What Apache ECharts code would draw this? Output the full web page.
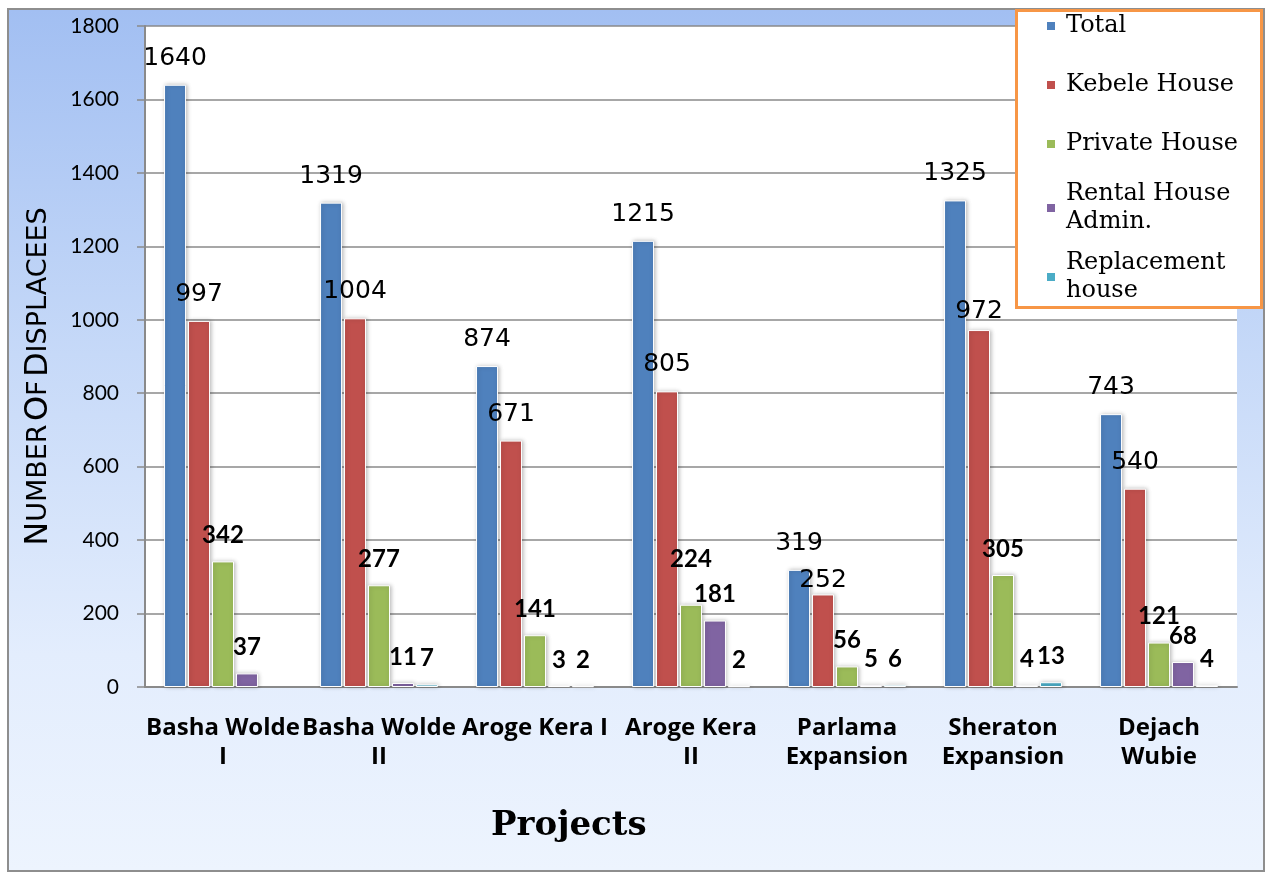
<!DOCTYPE html>
<html>
<head>
<meta charset="utf-8">
<script src="https://cdn.jsdelivr.net/npm/echarts@6/dist/echarts.min.js"></script>
<style>
  html, body { margin: 0; padding: 0; background: #ffffff; }
  #frame {
    position: absolute; left: 7px; top: 8px; width: 1254px; height: 860px;
    border: 2px solid #8e8e8e;
    background: linear-gradient(to bottom, #a2bff2 0%, #c6d9f8 40%, #e3edfd 75%, #edf4fe 100%);
  }
  #chart { position: absolute; left: 0; top: 0; width: 1270px; height: 873px; }
</style>
</head>
<body>
<div id="frame"></div>
<div id="chart"></div>
<script>
const categories = ['Basha Wolde\nI', 'Basha Wolde\nII', 'Aroge Kera I', 'Aroge Kera\nII', 'Parlama\nExpansion', 'Sheraton\nExpansion', 'Dejach\nWubie'];
const seriesNames = ['Total', 'Kebele House', 'Private House', 'Rental House\nAdmin.', 'Replacement\nhouse'];
const totalValues = [1640, 1319, 874, 1215, 319, 1325, 743];
const kebeleValues = [997, 1004, 671, 805, 252, 972, 540];
const privateValues = [342, 277, 141, 224, 56, 305, 121];
const rentalValues = [37, 11, 3, 181, 5, 4, 68];
const replacementValues = [null, 7, 2, 2, 6, 13, 4];
const yMin = 0, yMax = 1800, yInterval = 200;

const colors = ['#4f81bd', '#c0504d', '#9bbb59', '#8064a2', '#4bacc6'];
const allValues = [totalValues, kebeleValues, privateValues, rentalValues, replacementValues];

// manual label nudges seen in the original (series index -> category index -> [dx, dy])
const labelNudges = { 1: { 4: [0, 13], 5: [0, 8] }, 2: { 3: [0, -19] } };

const wideLabel = { show: true, position: 'top', distance: 14, color: '#000', fontFamily: 'DejaVu Sans', fontSize: 25, fontWeight: 'normal' };
const boldLabel = { show: true, position: 'top', distance: 14, color: '#000', fontFamily: 'Lato', fontSize: 24, fontWeight: 'bold' };

const series = seriesNames.map((name, i) => ({
  name: name,
  type: 'bar',
  barWidth: 22,
  barGap: '9%',
  data: allValues[i].map((v, j) => {
    const n = labelNudges[i] && labelNudges[i][j];
    return n ? { value: v, label: { offset: n } } : v;
  }),
  itemStyle: {
    color: colors[i],
    borderColor: '#ffffff', borderWidth: 1,
    shadowBlur: 4, shadowColor: 'rgba(0,0,0,0.25)', shadowOffsetX: 1, shadowOffsetY: 0
  },
  label: i < 2 ? wideLabel : boldLabel
}));

const legendData = seriesNames.map(name => ({
  name: name,
  textStyle: { lineHeight: name.indexOf('\n') >= 0 ? 28 : 46 }
}));

const chart = echarts.init(document.getElementById('chart'));
chart.setOption({
  animation: false,
  backgroundColor: 'transparent',
  grid: { left: 145, right: 33, top: 26, bottom: 186, show: true, backgroundColor: '#ffffff', borderWidth: 0 },
  title: {
    text: 'Projects', left: 486, top: 804,
    textStyle: { fontFamily: 'DejaVu Serif', fontWeight: 'bold', fontSize: 34, color: '#000' }
  },
  legend: {
    orient: 'vertical', left: 1045, top: 3, padding: 0,
    itemWidth: 10, itemHeight: 10, itemGap: 13,
    icon: 'rect',
    data: legendData,
    textStyle: { fontFamily: 'DejaVu Serif', fontSize: 24, color: '#000', padding: [0, 0, 0, 5] }
  },
  graphic: [{
    type: 'rect', z: 3,
    shape: { x: 1016.5, y: 10.5, width: 245, height: 297 },
    style: { fill: '#ffffff', stroke: '#f79646', lineWidth: 3 }
  }],
  xAxis: {
    type: 'category',
    data: categories,
    axisLine: { lineStyle: { color: '#8a8a8a', width: 2 } },
    axisTick: { show: false },
    axisLabel: {
      interval: 0, margin: 27, color: '#000',
      fontFamily: 'Open Sans', fontWeight: 'bold', fontSize: 24, lineHeight: 29
    }
  },
  yAxis: {
    type: 'value', min: yMin, max: yMax, interval: yInterval,
    name: '{b|N}{s|UMBER} {b|O}{s|F} {b|D}{s|ISPLACEES}',
    nameLocation: 'middle', nameGap: 90, nameRotate: 90,
    nameTextStyle: {
      color: '#000', padding: [0, 40, 0, 0],
      rich: {
        b: { fontFamily: 'DejaVu Sans', fontSize: 32, color: '#000' },
        s: { fontFamily: 'DejaVu Sans', fontSize: 27, color: '#000' }
      }
    },
    axisLine: { show: true, lineStyle: { color: '#8a8a8a', width: 2 } },
    axisTick: { show: true, length: 8, lineStyle: { color: '#8a8a8a', width: 1.5 } },
    axisLabel: { color: '#000', fontFamily: 'Lato', fontSize: 21, margin: 26, formatter: v => String(v) },
    splitLine: { show: true, lineStyle: { color: '#8a8a8a', width: 1.5 } }
  },
  series: series
});
</script>
</body>
</html>
